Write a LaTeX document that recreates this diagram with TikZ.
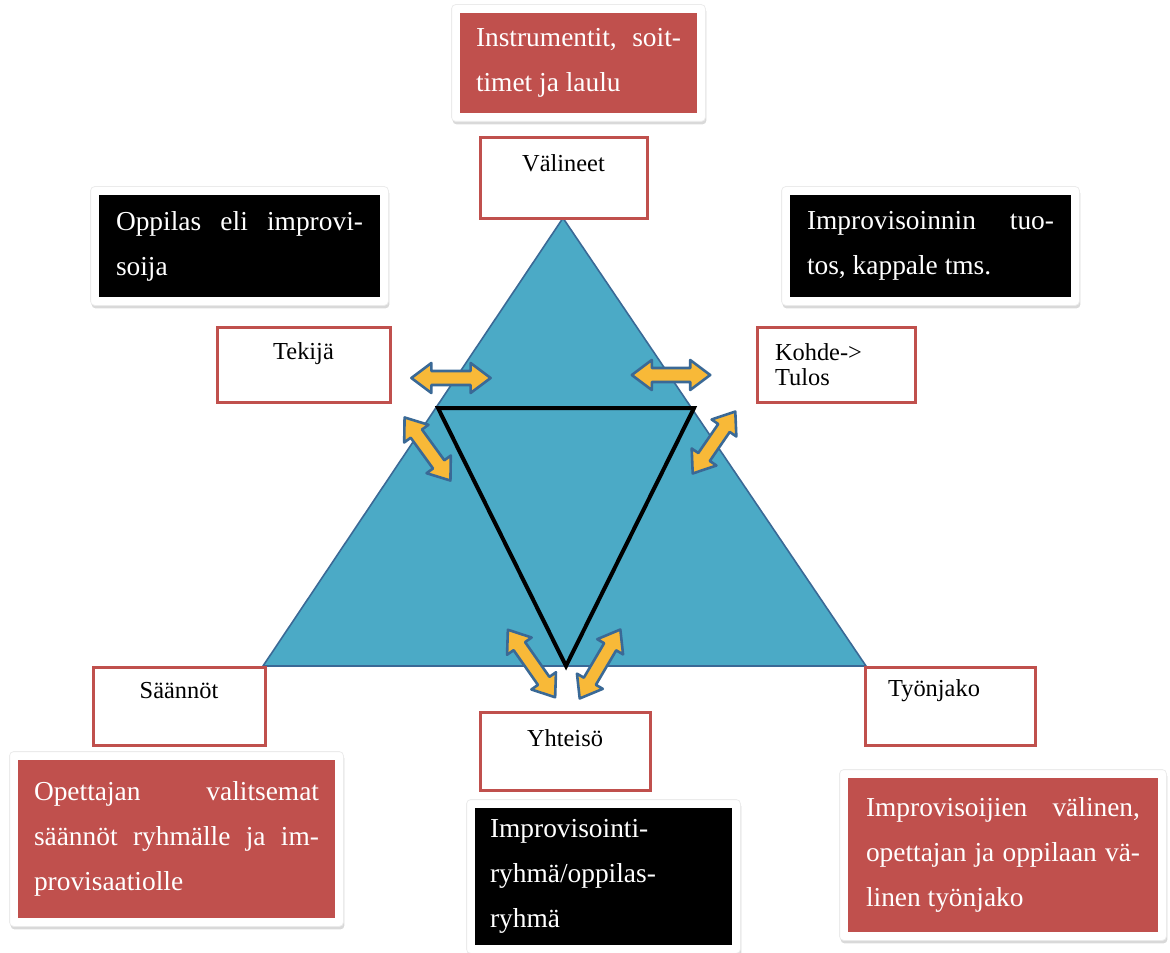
\documentclass[tikz,border=0pt]{standalone}
\usepackage{fontspec}
\setmainfont{Liberation Serif}
\usepackage{tikz}
\usetikzlibrary{shadows,fit,backgrounds}
\definecolor{PunainenLaatikko}{RGB}{192,80,77}
\definecolor{SininenKolmio}{RGB}{75,170,198}
\definecolor{SininenReuna}{RGB}{58,105,150}
\definecolor{KeltainenNuoli}{RGB}{248,185,56}

\begin{document}
\begin{tikzpicture}[x=0.5pt,y=-0.5pt,
  pikku/.style={draw=PunainenLaatikko,line width=1.5pt,fill=white,inner sep=0pt,
    minimum width=85pt,minimum height=39pt,font=\fontsize{12.2}{12.5}\selectfont},
  otsikko/.style={anchor=center,yshift=-13.5pt,inner sep=0pt,font=\fontsize{12.2}{12.5}\selectfont},
  iso/.style={inner sep=0pt,text=white,align=justify,font=\fontsize{13.7}{22.5}\selectfont},
  kortti/.style={fill=white,draw=black!8,line width=0.4pt,rounded corners=2pt,inner sep=4pt,
    drop shadow={opacity=0.3,shadow xshift=0.5pt,shadow yshift=-1.5pt}},
  nuoli/.style={draw=SininenReuna,fill=KeltainenNuoli,line width=1.3pt,line join=round},
  kaksoisnuoli/.pic={
    \draw[nuoli] (-#1,0pt) -- ({-#1+10pt},7.5pt) -- ({-#1+10pt},3.5pt) -- ({#1-10pt},3.5pt)
      -- ({#1-10pt},7.5pt) -- (#1,0pt) -- ({#1-10pt},-7.5pt) -- ({#1-10pt},-3.5pt)
      -- ({-#1+10pt},-3.5pt) -- ({-#1+10pt},-7.5pt) -- cycle;}]
  \useasboundingbox (0,0) rectangle (1170,952);

  % kolmiot
  \coordinate (huippu) at (563,218);
  \coordinate (vasen) at (263,666);
  \coordinate (oikea) at (866,666);
  \draw[fill=SininenKolmio,draw=SininenReuna,line width=0.8pt] (huippu)--(vasen)--(oikea)--cycle;
  \coordinate (sv) at (438,408);
  \coordinate (so) at (694,408);
  \coordinate (sa) at (566,666);
  \draw[line width=2pt] (sv)--(so)--(sa)--cycle;

  % nuolet
  \pic at (451,378) {kaksoisnuoli=19.8pt};
  \pic at (671,375) {kaksoisnuoli=19.6pt};
  \pic[rotate=-54] at (427.5,449) {kaksoisnuoli=19.5pt};
  \pic[rotate=55.5] at (714,442.5) {kaksoisnuoli=18.8pt};
  \pic[rotate=-55] at (531.5,663.5) {kaksoisnuoli=20.6pt};
  \pic[rotate=59.5] at (600,664) {kaksoisnuoli=20pt};

  % pienet laatikot
  \node[pikku,minimum width=83.5pt,minimum height=40pt,label={[otsikko]north:Välineet}] (valineet) at (563.5,178) {};
  \node[pikku,minimum width=86.5pt,minimum height=37.5pt,label={[otsikko,yshift=-0.5pt]north:Tekijä}] (tekija) at (303.5,364.5) {};
  \node[pikku,minimum width=79pt,minimum height=37.5pt,text width=61pt,align=left] (kohde) at (836,364.5) {Kohde->\\Tulos};
  \node[pikku,minimum width=86pt,label={[otsikko,yshift=1pt]north:Säännöt}] (saannot) at (179,706) {};
  \node[pikku,label={[otsikko,yshift=1pt,xshift=-8pt]north:Työnjako}] (tyonjako) at (950,706) {};
  \node[pikku,label={[otsikko,yshift=-0.5pt]north:Yhteisö}] (yhteiso) at (565,751) {};

  % isot laatikot
  \node[iso,fill=PunainenLaatikko,minimum width=118.5pt,minimum height=50pt,text width=102.5pt] (instrumentit) at (578.5,63)
    {Instrumentit, soit-\linebreak timet ja laulu};
  \node[iso,fill=black,minimum width=140.5pt,minimum height=51pt,text width=123.5pt] (oppilas) at (239.5,246)
    {Oppilas eli improvi-\linebreak soija};
  \node[iso,fill=black,minimum width=140.5pt,minimum height=51pt,text width=123.5pt] (tuotos) at (930.5,246)
    {Improvisoinnin tuo-\linebreak tos, kappale tms.};
  \node[iso,fill=PunainenLaatikko,minimum width=158.5pt,minimum height=79pt,text width=142.5pt] (opettajan) at (176.5,839)
    {Opettajan valitsemat\linebreak säännöt ryhmälle ja im-\linebreak provisaatiolle};
  \node[iso,fill=black,align=left,minimum width=128.5pt,minimum height=68.5pt,text width=113.5pt] (ryhma) at (603.5,876.5)
    {Improvisointi-\\ryhmä/oppilas-\\ryhmä};
  \node[iso,fill=PunainenLaatikko,minimum width=155pt,minimum height=77pt,text width=137pt] (valinen) at (1003,855)
    {Improvisoijien välinen,\linebreak opettajan ja oppilaan vä-\linebreak linen työnjako};

  \begin{scope}[on background layer]
    \foreach \laatikko in {instrumentit,oppilas,tuotos,opettajan,ryhma,valinen}
      \node[kortti,fit=(\laatikko)] {};
  \end{scope}
\end{tikzpicture}
\end{document}
